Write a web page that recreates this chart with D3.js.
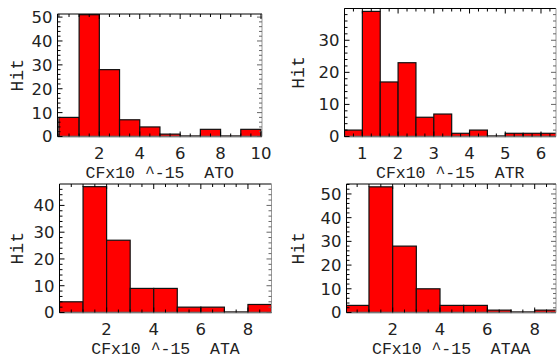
<html>
<head>
<script src="https://d3js.org/d3.v7.min.js"></script>
<style>
  body { margin: 0; background: #fff; }
  .tick-label { font-family: "DejaVu Sans", sans-serif; font-size: 16.5px; fill: #222; }
  .axis-title { font-family: "Liberation Mono", "Courier New", monospace; font-size: 16.5px; fill: #222; }
</style>
</head>
<body>
<div id="chart"></div>
<script type="text/javascript">

// histogram data: bin start, bin width, counts per bin
var names = ["ATO", "ATR", "ATA", "ATAA"];

var countsATO  = [8, 51, 28, 7, 4, 1, 0, 3, 0, 3];
var countsATR  = [2, 39, 17, 23, 6, 7, 1, 2, 0, 1, 1, 1];
var countsATA  = [4, 47, 27, 9, 9, 2, 2, 0, 3];
var countsATAA = [3, 53, 28, 10, 3, 3, 1, 0, 1];

var binStart = [0, 0.5, 0, 0];
var binWidth = [1, 0.5, 1, 1];

var xTicksATO  = [2, 4, 6, 8, 10];
var xTicksATR  = [1, 2, 3, 4, 5, 6];
var xTicksATA  = [2, 4, 6, 8];
var xTicksATAA = [2, 4, 6, 8];

var yTicksATO  = [0, 10, 20, 30, 40, 50];
var yTicksATR  = [0, 10, 20, 30];
var yTicksATA  = [0, 10, 20, 30, 40];
var yTicksATAA = [0, 10, 20, 30, 40, 50];

var counts = [countsATO, countsATR, countsATA, countsATAA];
var xTicks = [xTicksATO, xTicksATR, xTicksATA, xTicksATAA];
var yTicks = [yTicksATO, yTicksATR, yTicksATA, yTicksATAA];

// plotted ranges
var xDomains = [[-0.07, 10.05], [0.5, 6.42], [0, 9], [0.05, 8.9]];
var yDomains = [[0, 51.3], [0, 39.9], [0, 48], [0, 54.2]];

// frame boxes on the page (left, right, top, bottom)
var frames = [
  {l: 57.5, r: 262, t: 14, b: 136.5},
  {l: 344.5, r: 556, t: 8.5, b: 136.5},
  {l: 59.5, r: 271.5, t: 184, b: 312.5},
  {l: 346.5, r: 556, t: 184, b: 312.5}
];

var svg = d3.select('#chart')
  .append('svg')
    .attr('width', 557)
    .attr('height', 363);

var defs = svg.append('defs');

names.forEach(function(name, i) {
  var f = frames[i];
  var x = d3.scaleLinear().domain(xDomains[i]).range([f.l, f.r]);
  var y = d3.scaleLinear().domain(yDomains[i]).range([f.b, f.t]);
  var g = svg.append('g');

  defs.append('clipPath').attr('id', 'clip' + i)
    .append('rect')
      .attr('x', f.l).attr('y', f.t - 2)
      .attr('width', f.r - f.l).attr('height', f.b - f.t + 4);

  var bins = counts[i].map(function(c, k) {
    return {x0: binStart[i] + k * binWidth[i], x1: binStart[i] + (k + 1) * binWidth[i], n: c};
  });

  // bars (empty bins still show as a thin dark edge)
  g.append('g').attr('clip-path', 'url(#clip' + i + ')')
    .selectAll('rect')
    .data(bins)
    .enter()
    .append('rect')
      .attr('x', function(d) { return x(d.x0); })
      .attr('y', function(d) { return Math.min(y(d.n), y(0) - 0.6); })
      .attr('width', function(d) { return x(d.x1) - x(d.x0); })
      .attr('height', function(d) { return Math.max(y(0) - y(d.n), 0.6); })
      .attr('fill', '#ff0000')
      .attr('stroke', '#111')
      .attr('stroke-width', 1.2);

  // frame
  g.append('line').attr('x1', f.l).attr('x2', f.r).attr('y1', f.b).attr('y2', f.b)
    .attr('stroke', '#777').attr('stroke-width', 1.5);
  g.append('line').attr('x1', f.l).attr('x2', f.l).attr('y1', f.t).attr('y2', f.b)
    .attr('stroke', '#000').attr('stroke-width', 1);
  g.append('line').attr('x1', f.l).attr('x2', f.r).attr('y1', f.t).attr('y2', f.t)
    .attr('stroke', '#000').attr('stroke-width', 1);
  g.append('line').attr('x1', f.r).attr('x2', f.r).attr('y1', f.t).attr('y2', f.b)
    .attr('stroke', '#999').attr('stroke-width', 1);

  // minor / major ticks, drawn inward on all sides
  var xMajStep = xTicks[i][1] - xTicks[i][0];
  var yMinor = d3.range(0, yDomains[i][1], 2);
  var xMinor = d3.range(Math.ceil(xDomains[i][0] / (xMajStep / 4)) * xMajStep / 4, xDomains[i][1], xMajStep / 4);

  var tickG = g.append('g').attr('stroke', '#000').attr('stroke-width', 1);
  yMinor.forEach(function(v) {
    var len = yTicks[i].indexOf(v) >= 0 ? 5 : 3;
    tickG.append('line').attr('x1', f.l).attr('x2', f.l + len).attr('y1', y(v)).attr('y2', y(v));
    tickG.append('line').attr('x1', f.r).attr('x2', f.r - len).attr('y1', y(v)).attr('y2', y(v))
      .attr('stroke', '#666');
  });
  xMinor.forEach(function(v) {
    var major = xTicks[i].some(function(t) { return Math.abs(t - v) < 1e-6; });
    var len = major ? 5 : 3;
    tickG.append('line').attr('x1', x(v)).attr('x2', x(v)).attr('y1', f.b).attr('y2', f.b - len);
    tickG.append('line').attr('x1', x(v)).attr('x2', x(v)).attr('y1', f.t).attr('y2', f.t + len);
  });

  // tick labels
  g.selectAll('.ylab')
    .data(yTicks[i])
    .enter()
    .append('text')
      .attr('class', 'tick-label')
      .attr('x', f.l - 5)
      .attr('y', function(d) { return y(d); })
      .attr('dy', '0.36em')
      .attr('text-anchor', 'end')
      .text(function(d) { return d; });

  g.selectAll('.xlab')
    .data(xTicks[i])
    .enter()
    .append('text')
      .attr('class', 'tick-label')
      .attr('x', function(d) { return x(d); })
      .attr('y', f.b + 17)
      .attr('dy', '0.36em')
      .attr('text-anchor', 'middle')
      .text(function(d) { return d; });

  // axis titles
  g.append('text')
    .attr('class', 'axis-title')
    .attr('x', (f.l + f.r) / 2)
    .attr('y', f.b + 41)
    .attr('text-anchor', 'middle')
    .attr('xml:space', 'preserve')
    .style('white-space', 'pre')
    .text('CFx10 ^-15  ' + name);

  var hx = i % 2 === 0 ? 17 : 298;
  g.append('text')
    .attr('class', 'axis-title')
    .attr('transform', 'translate(' + (hx + 6) + ',' + ((f.t + f.b) / 2) + ') rotate(-90)')
    .attr('text-anchor', 'middle')
    .style('font-size', '18px')
    .text('Hit');
});

</script>
</body>
</html>
